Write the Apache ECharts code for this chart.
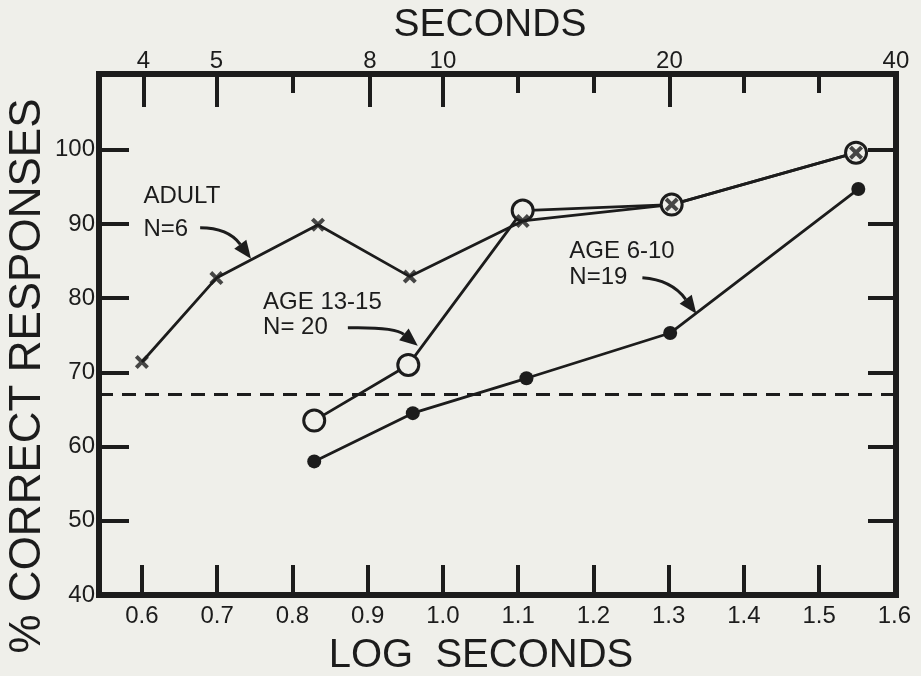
<!DOCTYPE html>
<html><head><meta charset="utf-8">
<script src="https://cdn.jsdelivr.net/npm/echarts@6/dist/echarts.min.js"></script>
<style>html,body{margin:0;padding:0;background:#efefea;}#c{width:921px;height:676px;}</style>
</head><body><div id="c"></div>
<script>
// ---- data ----
const logTickValues = [0.6, 0.7, 0.8, 0.9, 1.0, 1.1, 1.2, 1.3, 1.4, 1.5];
const logLabelValues = [0.6, 0.7, 0.8, 0.9, 1.0, 1.1, 1.2, 1.3, 1.4, 1.5, 1.6];
const secondsLabels = [4, 5, 8, 10, 20, 40];
const secondsMinorLog = [0.8, 1.1, 1.2, 1.4, 1.5];
const pctTickValues = [50, 60, 70, 80, 90, 100];
const pctLabelValues = [40, 50, 60, 70, 80, 90, 100];

const adultLog = [0.600, 0.699, 0.834, 0.956, 1.106, 1.304, 1.549];
const adultPct = [71.4, 82.7, 89.9, 82.9, 90.4, 92.6, 99.6];
const teenLog = [0.829, 0.954, 1.106, 1.304, 1.549];
const teenPct = [63.5, 71.0, 91.8, 92.6, 99.6];
const childLog = [0.829, 0.960, 1.111, 1.302, 1.552];
const childPct = [58.0, 64.5, 69.2, 75.3, 94.7];
const chanceLevel = 67.1;

const annotations = [
  {lines: ['ADULT', 'N=6'], at: [0.602, 93.66], at2: [0.602, 89.2]},
  {lines: ['AGE 13-15', 'N= 20'], at: [0.761, 79.37], at2: [0.761, 76.0]},
  {lines: ['AGE 6-10', 'N=19'], at: [1.168, 86.24], at2: [1.168, 82.74]}
];
const arrows = [
  {start: [0.6774, 89.48], ctrl: [0.7145, 89.48], tip: [0.745, 85.30]},
  {start: [0.8737, 76.0], ctrl: [0.936, 76.13], tip: [0.9666, 73.57]},
  {start: [1.2651, 82.74], ctrl: [1.3036, 82.47], tip: [1.3368, 77.89]}
];

// ---- chart ----
const INK = '#1c1c1c';
const BG = '#efefea';
const FONT = 'Liberation Sans';
const zip = (xs, ys) => xs.map((x, i) => [x, ys[i]]);
const chart = echarts.init(document.getElementById('c'), null, {renderer: 'canvas'});

const axisLine = {show: true, lineStyle: {color: INK, width: 6, cap: 'square'}};
const xMin = 0.543, xMax = 1.6021;

const option = {
  backgroundColor: BG,
  animation: false,
  grid: {left: 99, right: 25, top: 74, bottom: 81, outerBoundsMode: 'none'},
  xAxis: [
    {type: 'value', position: 'bottom', min: xMin, max: xMax,
     axisLine: axisLine,
     axisTick: {show: true, inside: true, length: 30, lineStyle: {color: INK, width: 4}, customValues: logTickValues},
     axisLabel: {show: true, customValues: logLabelValues, formatter: v => v.toFixed(1),
       color: INK, fontSize: 24, fontFamily: FONT, margin: 9},
     splitLine: {show: false}},
    {type: 'value', position: 'top', min: xMin, max: xMax,
     axisLine: axisLine,
     axisTick: {show: true, inside: true, length: 33, lineStyle: {color: INK, width: 4},
       customValues: secondsLabels.map(s => Math.log10(s))},
     axisLabel: {show: true, customValues: secondsLabels.map(s => Math.log10(s)),
       formatter: v => String(Math.round(Math.pow(10, v))),
       color: INK, fontSize: 24, fontFamily: FONT, margin: 1},
     splitLine: {show: false}},
    {type: 'value', position: 'top', min: xMin, max: xMax,
     axisLine: {show: false},
     axisTick: {show: true, inside: true, length: 19, lineStyle: {color: INK, width: 4}, customValues: secondsMinorLog},
     axisLabel: {show: false},
     splitLine: {show: false}}
  ],
  yAxis: [
    {type: 'value', position: 'left', min: 40, max: 110.2,
     axisLine: axisLine,
     axisTick: {show: true, inside: true, length: 30, lineStyle: {color: INK, width: 4}, customValues: pctTickValues},
     axisLabel: {show: true, customValues: pctLabelValues, color: INK, fontSize: 24, fontFamily: FONT, margin: 4},
     splitLine: {show: false}},
    {type: 'value', position: 'right', min: 40, max: 110.2,
     axisLine: axisLine,
     axisTick: {show: true, inside: true, length: 28, lineStyle: {color: INK, width: 4}, customValues: pctTickValues},
     axisLabel: {show: false},
     splitLine: {show: false}}
  ],
  series: [
    {name: 'Adult line', type: 'line', xAxisIndex: 0, yAxisIndex: 0, data: zip(adultLog, adultPct),
     symbol: 'none', lineStyle: {color: INK, width: 2.8}, z: 2},
    {name: 'Age 13-15', type: 'line', data: zip(teenLog, teenPct),
     symbol: 'circle', symbolSize: 21, showAllSymbol: true,
     itemStyle: {color: BG, borderColor: INK, borderWidth: 3},
     lineStyle: {color: INK, width: 2.8}, z: 3},
    {name: 'Age 6-10', type: 'line', data: zip(childLog, childPct),
     symbol: 'circle', symbolSize: 14, showAllSymbol: true,
     itemStyle: {color: INK},
     lineStyle: {color: INK, width: 2.8}, z: 3,
     markLine: {silent: true, symbol: 'none', label: {show: false},
       lineStyle: {color: INK, width: 3, type: [14, 9]},
       data: [{yAxis: chanceLevel}]}},
    {name: 'Adult', type: 'scatter', data: zip(adultLog, adultPct),
     symbol: 'path://M0,2L2,0L5,3L8,0L10,2L7,5L10,8L8,10L5,7L2,10L0,8L3,5Z',
     symbolSize: 14, itemStyle: {color: INK}, z: 5}
  ]
};
chart.setOption(option);

// ---- annotations (text and curved arrows placed in data space) ----
const px = p => chart.convertToPixel({gridIndex: 0}, p);
const g = [];
const textStyle = {fill: INK, fontSize: 24, fontFamily: FONT, verticalAlign: 'middle', align: 'left'};
annotations.forEach(a => {
  const p1 = px(a.at), p2 = px(a.at2);
  g.push({type: 'text', x: p1[0], y: p1[1], style: Object.assign({text: a.lines[0]}, textStyle), z: 10});
  g.push({type: 'text', x: p2[0], y: p2[1], style: Object.assign({text: a.lines[1]}, textStyle), z: 10});
});
arrows.forEach(a => {
  const s = px(a.start), c = px(a.ctrl), t = px(a.tip);
  let dx = t[0] - c[0], dy = t[1] - c[1];
  const len = Math.hypot(dx, dy); dx /= len; dy /= len;
  const L = 18, W = 7.5;
  const b = [t[0] - dx * L, t[1] - dy * L];
  const n = [-dy, dx];
  g.push({type: 'bezierCurve', shape: {x1: s[0], y1: s[1], cpx1: c[0], cpy1: c[1], x2: b[0], y2: b[1]},
    style: {stroke: INK, lineWidth: 3, fill: null}, z: 10});
  g.push({type: 'polygon', shape: {points: [t, [b[0] + n[0] * W, b[1] + n[1] * W], [b[0] - n[0] * W, b[1] - n[1] * W]]},
    style: {fill: INK}, z: 10});
});
// axis titles
g.push({type: 'text', x: 490, y: 25, style: {text: 'SECONDS', fill: INK, fontSize: 39, fontFamily: FONT, align: 'center', verticalAlign: 'middle'}});
g.push({type: 'text', x: 481, y: 656, style: {text: 'LOG  SECONDS', fill: INK, fontSize: 40, fontFamily: FONT, align: 'center', verticalAlign: 'middle'}});
g.push({type: 'text', x: 28, y: 376, rotation: Math.PI / 2, style: {text: '% CORRECT RESPONSES', fill: INK, fontSize: 44, fontFamily: FONT, align: 'center', verticalAlign: 'middle'}});
chart.setOption({graphic: g});
</script>
</body></html>
